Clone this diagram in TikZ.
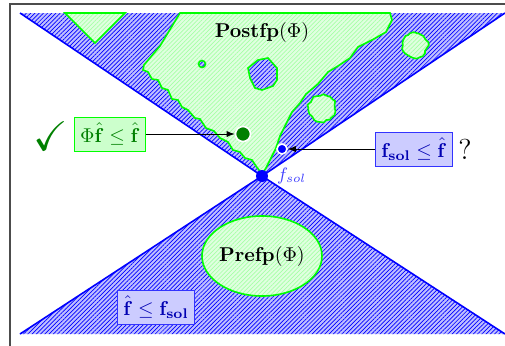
\documentclass[tikz,border=0pt]{standalone}
\usepackage{amsmath,amssymb}
\usetikzlibrary{patterns.meta}

\tikzset{
    bluereg/.style={preaction={fill=blue!25},
        pattern={Lines[angle=45,distance=1.5pt,line width=0.35pt]}, pattern color=blue},
    greenreg/.style={preaction={fill=green!12},
        pattern={Lines[angle=45,distance=1.5pt,line width=0.35pt]}, pattern color=green!35,
        draw=green, line width=0.8pt},
    holereg/.style={bluereg, draw=green, line width=0.8pt},
    greenbox/.style={draw=green, fill=green!20, text=green!50!black, inner sep=3pt},
    bluebox/.style={draw=blue!80, fill=blue!20, text=blue!70!black, inner sep=3pt},
    dot/.style={circle, inner sep=0pt, draw=white, thick}
}

\begin{document}
\begin{tikzpicture}[x=0.5pt,y=-0.5pt]

    % Visible window and frame
    \clip (0,0) rectangle (505,345);
    \draw[black!70, line width=0.7pt] (10,4) rectangle (530,370);

    % The two cones
    \path[bluereg] (20,13) -- (505,13) -- (262,176) -- cycle;
    \path[bluereg] (20,334) -- (505,334) -- (262,176) -- cycle;
    \draw[blue, thick] (20,13) -- (262,176) -- (505,13);
    \draw[blue, thick] (20,334) -- (262,176) -- (505,334);

    % Post-fixpoints (upper cone)
    \path[greenreg] (65,13) -- (125,13) -- (95,43) -- cycle;
    \path[greenreg]
        (180,13) -- (390,13) -- (392,20) -- (386,32) -- (372,40) -- (358,47)
        -- (350,58) -- (338,66) -- (328,72) -- (318,84) -- (306,94) -- (300,103)
        -- (292,112) -- (286,124) -- (280,136) -- (276,148) -- (271,158) -- (266,168)
        -- (262,174) -- (256,166) -- (252,160) -- (245,158) -- (240,152) -- (233,150)
        -- (228,142) -- (220,138) -- (214,131) -- (206,128) -- (200,119) -- (195,118)
        -- (188,110) -- (182,107) -- (178,100) -- (172,99) -- (168,90) -- (162,88)
        -- (158,80) -- (152,79) -- (148,72) -- (143,70) -- (144,65) -- (160,46) -- cycle;
    \path[holereg] (202,64) circle [radius=3.5];
    \path[holereg] (248,68) -- (258,60) -- (268,58) -- (277,68) -- (277,80) -- (273,86)
        -- (262,90) -- (255,88) -- (250,78) -- cycle;

    % Green islands in the blue part
    \pgfmathsetseed{3}
    \path[greenreg] plot[domain=0:345, samples=26, variable=\a]
        ({415+(11+3*rnd)*cos(\a)}, {45+(11+3*rnd)*sin(\a)}) -- cycle;
    \path[greenreg] plot[domain=0:345, samples=26, variable=\a]
        ({322+(12+3*rnd)*cos(\a)}, {108+(12+3*rnd)*sin(\a)}) -- cycle;

    % Pre-fixpoints (lower cone)
    \path[greenreg] (262,256) ellipse [x radius=60, y radius=40];

    % Region labels
    \node (postfp) at (262,32) {\textbf{Postfp}$(\Phi)$};
    \node (prefp) at (262,256) {\textbf{Prefp}$(\Phi)$};

    % The solution point
    \node[dot, fill=blue, draw=none, minimum size=6pt] (sol) at (262,176) {};
    \node[text=blue!75, font=\small, anchor=west] (sollabel) at (270,176) {$f_{sol}$};

    % Left query: holds
    \node[text=green!50!black, font=\huge] (tick) at (51,136) {$\checkmark$};
    \node[greenbox] (hatbox) at (110,134) {$\Phi\hat{\mathbf{f}} \leq \hat{\mathbf{f}}$};
    \node[dot, fill=green!50!black, minimum size=7.5pt] (gdot) at (243,134) {};
    \draw[-latex] (hatbox) -- (gdot);

    % Right query: open
    \node[bluebox] (solbox) at (414,149) {$\mathbf{f_{sol}} \leq \hat{\mathbf{f}}$};
    \node[font=\Large] (qmark) at (465,149) {?};
    \node[dot, fill=blue, minimum size=5pt] (bdot) at (282,149) {};
    \draw[-latex] (solbox) -- (bdot);

    % Lower cone query
    \node[bluebox] (lowbox) at (156,307) {$\hat{\mathbf{f}} \leq \mathbf{f_{sol}}$};

\end{tikzpicture}
\end{document}
